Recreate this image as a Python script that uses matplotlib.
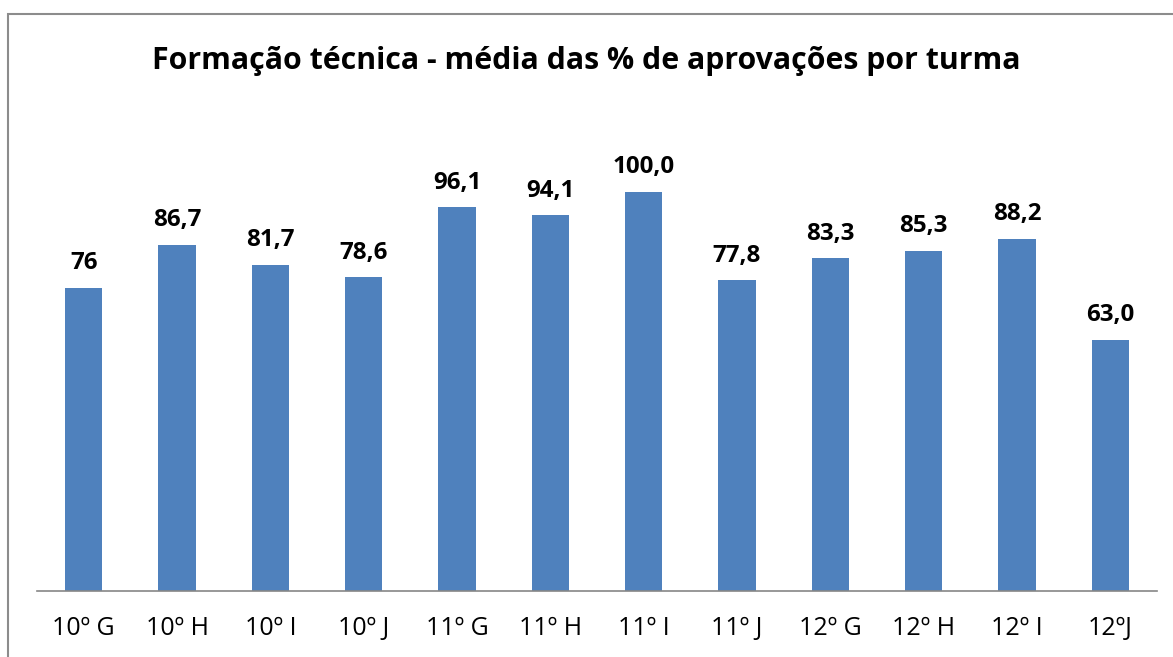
import matplotlib

matplotlib.use("Agg")
import matplotlib.pyplot as plt
import matplotlib.patches as patches
import numpy as np

TURMAS = ["10º G", "10º H", "10º I", "10º J", "11º G", "11º H",
          "11º I", "11º J", "12º G", "12º H", "12º I", "12ºJ"]
MEDIAS = [76, 86.7, 81.7, 78.6, 96.1, 94.1, 100.0, 77.8, 83.3, 85.3, 88.2, 63.0]
ROTULOS = ["76", "86,7", "81,7", "78,6", "96,1", "94,1", "100,0",
           "77,8", "83,3", "85,3", "88,2", "63,0"]

plt.rcParams["font.family"] = ["Open Sans", "DejaVu Sans"]

fig = plt.figure(figsize=(11.73, 6.57), dpi=100)
ax = fig.add_axes([37 / 1173, 66 / 657, 1120 / 1173, 479 / 657])

x = np.arange(len(TURMAS))
ax.bar(x, MEDIAS, width=0.4, color="#4F81BD", zorder=2)
for xi, v, lab in zip(x, MEDIAS, ROTULOS):
    ax.annotate(lab, (xi, v), xytext=(0, 9), textcoords="offset points",
                ha="center", va="bottom", fontsize=17.4, fontweight="bold")

ax.set_xlim(-0.5, len(TURMAS) - 0.5)
ax.set_ylim(0, 120)
ax.set_xticks(x)
ax.set_xticklabels(TURMAS, fontsize=18)
ax.tick_params(axis="x", length=0, pad=18)
ax.set_yticks([])
for s in ("top", "right", "left"):
    ax.spines[s].set_visible(False)
ax.spines["bottom"].set_color("#868686")
ax.spines["bottom"].set_linewidth(1.2)

fig.text(0.5, 1 - 61 / 657, "Formação técnica - média das % de aprovações por turma",
         ha="center", va="center", fontsize=21.8, fontweight="bold")

# chart border (Excel-style frame)
fig.patches.append(patches.Rectangle((8 / 1173, -0.1), 1.2, 1 - 14 / 657 + 0.1,
                                     transform=fig.transFigure, fill=False,
                                     edgecolor="#8c8c8c", linewidth=1.5))

fig.savefig("out.png", dpi=100, facecolor="white")
